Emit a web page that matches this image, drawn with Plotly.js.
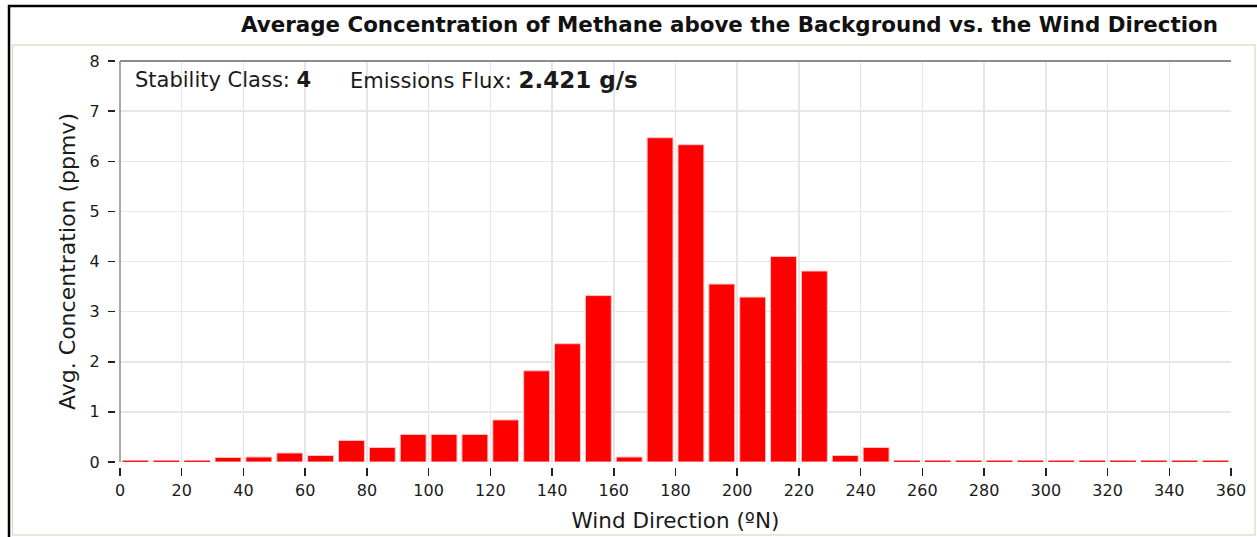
<!DOCTYPE html>
<html>
<head>
<meta charset="utf-8">
<script src="https://cdn.plot.ly/plotly-3.0.1.min.js"></script>
<style>html,body{margin:0;padding:0;background:#fff;}#chart{width:1257px;height:537px;}</style>
</head>
<body>
<div id="chart"></div>
<script>
// Wind direction bin centres (degrees)
var windDirection = [5, 15, 25, 35, 45, 55, 65, 75, 85, 95, 105, 115, 125, 135, 145, 155, 165, 175,
                     185, 195, 205, 215, 225, 235, 245, 255, 265, 275, 285, 295, 305, 315, 325, 335, 345, 355];
// Average concentration above background (ppmv)
var avgConcentration = [0, 0, 0, 0.09, 0.10, 0.18, 0.13, 0.43, 0.29, 0.55, 0.55, 0.55, 0.84, 1.82, 2.36, 3.32, 0.10, 6.47,
                        6.33, 3.55, 3.29, 4.10, 3.81, 0.13, 0.29, 0, 0, 0, 0, 0, 0, 0, 0, 0, 0, 0];
var xTickValues = [0, 20, 40, 60, 80, 100, 120, 140, 160, 180, 200, 220, 240, 260, 280, 300, 320, 340, 360];
var yTickValues = [0, 1, 2, 3, 4, 5, 6, 7, 8];
var chartTitle = 'Average Concentration of Methane above the Background vs. the Wind Direction';
var stabilityClass = '4';
var emissionsFlux = '2.421 g/s';

var W = 1257, H = 537;
var M = {l: 115, r: 26, t: 61, b: 70};
var PW = W - M.l - M.r, PH = H - M.t - M.b;
function px2x(p) { return (p - M.l) / PW; }
function px2y(p) { return (H - M.b - p) / PH; }

var lineColors = avgConcentration.map(function (v) { return v === 0 ? '#ff1a1a' : '#ffc4c4'; });
var lineWidths = avgConcentration.map(function (v) { return v === 0 ? 3 : 1; });

var trace = {
  type: 'bar',
  x: windDirection,
  y: avgConcentration,
  width: 8.4,
  cliponaxis: false,
  marker: {color: '#ff0000', line: {color: lineColors, width: lineWidths}},
  hoverinfo: 'x+y'
};

var font = 'DejaVu Sans, Verdana, sans-serif';

var layout = {
  width: W, height: H,
  margin: M,
  paper_bgcolor: '#ffffff',
  plot_bgcolor: '#ffffff',
  showlegend: false,
  font: {family: font, color: '#1a1a1a', size: 16},
  title: {
    text: '<b>' + chartTitle + '</b>',
    xref: 'container', x: 1218 / W, xanchor: 'right',
    yref: 'container', y: 1 - 25 / H, yanchor: 'middle',
    font: {family: font, size: 21.4, color: '#111111'}
  },
  xaxis: {
    range: [0, 360],
    domain: [5 / PW, 1],
    anchor: 'free', position: 0,
    tickmode: 'array', tickvals: xTickValues,
    ticks: 'outside', ticklen: 8, tickwidth: 1.5, tickcolor: '#222222',
    ticklabelstandoff: 1,
    showgrid: true, gridcolor: '#e6e6e6', gridwidth: 1.5,
    zeroline: false, showline: false,
    tickfont: {family: font, size: 16, color: '#1a1a1a'},
    title: {text: 'Wind Direction (ºN)', font: {family: font, size: 21.5, color: '#1a1a1a'}, standoff: 13}
  },
  yaxis: {
    range: [0, 8],
    domain: [5 / PH, 1],
    anchor: 'free', position: 0,
    tickmode: 'array', tickvals: yTickValues,
    ticks: 'outside', ticklen: 7, tickwidth: 1.5, tickcolor: '#222222',
    ticklabelstandoff: 5,
    showgrid: true, gridcolor: '#e6e6e6', gridwidth: 1.5,
    zeroline: false, showline: false,
    tickfont: {family: font, size: 16, color: '#1a1a1a'},
    title: {text: 'Avg. Concentration (ppmv)', font: {family: font, size: 22, color: '#1a1a1a'}, standoff: 6}
  },
  shapes: [
    // outer black frame (top and left)
    {type: 'line', xref: 'paper', yref: 'paper', x0: px2x(8), x1: px2x(1257), y0: px2y(6), y1: px2y(6),
     line: {color: '#000000', width: 2.5}, layer: 'below'},
    {type: 'line', xref: 'paper', yref: 'paper', x0: px2x(9), x1: px2x(9), y0: px2y(5), y1: px2y(537),
     line: {color: '#000000', width: 2.5}, layer: 'below'},
    // light panel border
    {type: 'rect', xref: 'paper', yref: 'paper', x0: px2x(12.5), x1: px2x(1255), y0: px2y(45), y1: px2y(535),
     line: {color: '#e0e0c8', width: 1.5}, layer: 'below'},
    // plot top border
    {type: 'line', xref: 'x domain', yref: 'y domain', x0: 0, x1: 1, y0: 1, y1: 1,
     line: {color: '#8c8c8c', width: 2}},
    // left axis line
    {type: 'line', xref: 'x domain', yref: 'y domain', x0: 0, x1: 0, y0: 0, y1: 1,
     line: {color: '#8c8c8c', width: 1.5}}
  ],
  annotations: [
    {xref: 'paper', yref: 'paper', x: px2x(133), y: px2y(80), xanchor: 'left', yanchor: 'middle',
     showarrow: false, text: 'Stability Class: <b>' + stabilityClass + '</b>',
     font: {family: font, size: 21, color: '#1a1a1a'}},
    {xref: 'paper', yref: 'paper', x: px2x(348), y: px2y(80), xanchor: 'left', yanchor: 'middle',
     showarrow: false, text: 'Emissions Flux: <b><span style="font-size:23px">' + emissionsFlux + '</span></b>',
     font: {family: font, size: 21, color: '#1a1a1a'}}
  ]
};

Plotly.newPlot('chart', [trace], layout, {displayModeBar: false, staticPlot: true});
</script>
</body>
</html>
